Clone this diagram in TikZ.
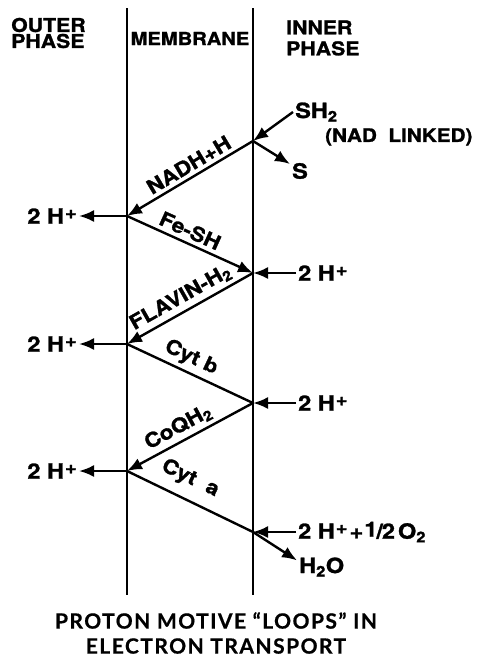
\documentclass[tikz,border=0pt]{standalone}
\usepackage{fontspec}
\setmainfont[FakeStretch=1.12, BoldFeatures={FakeBold=1.3}]{TeX Gyre Heros}
\newfontfamily\capfont[LetterSpace=7, BoldFeatures={FakeBold=0.6}]{Lato}
\usetikzlibrary{arrows.meta}
\newcommand{\Hplus}{H\kern1pt\raisebox{5pt}{\fontsize{18}{18}\selectfont+}}

\begin{document}
\begin{tikzpicture}[x=1pt, y=-1pt, >={Latex[length=15pt,width=12pt]},
  wall/.style={line width=2.8pt},
  flow/.style={line width=2.4pt, ->},
  bare/.style={line width=2.4pt},
  head/.style={font=\fontsize{19}{16}\selectfont\bfseries, align=left, inner sep=0pt},
  spec/.style={font=\fontsize{21}{22}\selectfont\bfseries, inner sep=2pt},
  carrier/.style={font=\fontsize{20}{20}\selectfont\bfseries, sloped, above=2pt, inner sep=2pt}]
\useasboundingbox (0,0) rectangle (481,659);
  % walls of the membrane
  \coordinate (lt) at (127,8);
  \coordinate (lb) at (127,595);
  \coordinate (rt) at (253,8);
  \coordinate (rb) at (253,595);
  \draw[wall] (lt) -- (lb);
  \draw[wall] (rt) -- (rb);
  % headings
  \node[head, anchor=west] (outer) at (11,33) {OUTER\\PHASE};
  \node[head, font=\fontsize{18}{16}\selectfont\bfseries] (membrane) at (190,38.5) {MEMBRANE};
  \node[head, anchor=west, font=\fontsize{19}{21}\selectfont\bfseries] (inner) at (286,38) {INNER\\PHASE};
  % junctions on the walls
  \coordinate (r1) at (253,141);
  \coordinate (l1) at (127,216);
  \coordinate (r2) at (253,273);
  \coordinate (l2) at (127,344);
  \coordinate (r3) at (253,403);
  \coordinate (l3) at (127,471);
  \coordinate (r4) at (253,532);
  % inner phase
  \node[spec, anchor=west] (sh) at (293,112) {SH\textsubscript{2}};
  \node[spec, anchor=west, font=\fontsize{18.5}{20}\selectfont\bfseries] (nad) at (323,137) {(NAD\ \ LINKED)};
  \node[spec] (s) at (300,171) {S};
  \node[spec, anchor=west] (hi1) at (296,273) {2 \Hplus};
  \node[spec, anchor=west] (hi2) at (296,403) {2 \Hplus};
  \node[spec, anchor=west] (hi3) at (296,532) {2 \Hplus\kern2pt+\kern1pt\raisebox{2pt}{1}\kern-1pt/\kern-1pt2\kern3pt O\textsubscript{2}};
  \node[spec, anchor=west] (h2o) at (297,567) {H\textsubscript{2}O};
  % outer phase
  \node[spec, anchor=east] (ho1) at (79,216) {2 \Hplus};
  \node[spec, anchor=east] (ho2) at (79,344) {2 \Hplus};
  \node[spec, anchor=east] (ho3) at (79,471) {2 \Hplus};
  % arrows at the walls
  \draw[flow] (sh.west) -- (r1);
  \draw[flow] (r1) -- (s.145);
  \draw[flow] (hi1.west) -- (r2);
  \draw[flow] (hi2.west) -- (r3);
  \draw[flow] (hi3.west) -- (r4);
  \draw[flow] (r4) -- (h2o.165);
  \draw[flow] (l1) -- (ho1.east);
  \draw[flow] (l2) -- (ho2.east);
  \draw[flow] (l3) -- (ho3.east);
  % electron carriers
  \draw[flow] (r1) -- node[carrier, pos=0.46] {NADH+H} (l1);
  \draw[flow] (l1) -- node[carrier, pos=0.46] {Fe-SH} (r2);
  \draw[flow] (r2) -- node[carrier, pos=0.52] {FLAVIN-H\textsubscript{2}} (l2);
  \draw[bare] (l2) -- node[carrier, pos=0.46] {Cyt b} (r3);
  \draw[flow] (r3) -- node[carrier, pos=0.54] {CoQH\textsubscript{2}} (l3);
  \draw[bare] (l3) -- node[carrier, pos=0.43, above=6pt] {Cyt\ \ a} (r4);
  % caption
  \node[font=\capfont\fontsize{21}{25}\selectfont\bfseries, align=center] (title) at (216,633)
    {PROTON MOTIVE “LOOPS” IN\\ELECTRON TRANSPORT};
\end{tikzpicture}
\end{document}
